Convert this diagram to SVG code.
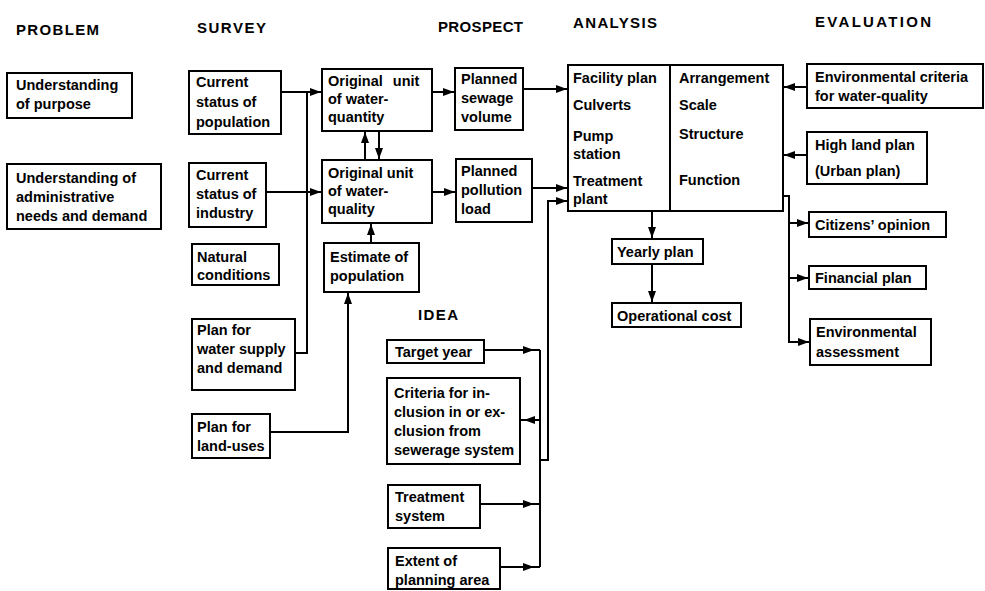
<svg xmlns="http://www.w3.org/2000/svg" width="985" height="591" viewBox="0 0 985 591">
<style>
.box{fill:#fff;stroke:#000;stroke-width:2}
.t{font-family:"Liberation Sans",Arial,sans-serif;font-size:14.5px;font-weight:bold;fill:#000}
.h{font-family:"Liberation Sans",Arial,sans-serif;font-size:15px;font-weight:bold;fill:#000}
.c{fill:none;stroke:#000;stroke-width:2}
.a{marker-end:url(#ah)}
.m{marker-mid:url(#ah)}
</style>
<defs>
<marker id="ah" markerUnits="userSpaceOnUse" markerWidth="11" markerHeight="8" refX="11" refY="4" orient="auto">
<path d="M0,0 L11,4 L0,8 z" fill="#000"/>
</marker>
</defs>
<rect width="985" height="591" fill="#fff"/>

<g id="headers">
<text class="h" x="16" y="35" textLength="83" lengthAdjust="spacing">PROBLEM</text>
<text class="h" x="197" y="33" textLength="69" lengthAdjust="spacing">SURVEY</text>
<text class="h" x="438" y="32" textLength="85" lengthAdjust="spacing">PROSPECT</text>
<text class="h" x="573" y="28" textLength="84" lengthAdjust="spacing">ANALYSIS</text>
<text class="h" x="815" y="27" textLength="116" lengthAdjust="spacing">EVALUATION</text>
<text class="h" x="418" y="320" textLength="40" lengthAdjust="spacing">IDEA</text>
</g>

<g id="connectors">
<path class="c a" d="M281,92 H321"/>
<path class="c a" d="M266,192 H321"/>
<path class="c" d="M295,353 H307 V92"/>
<path class="c a" d="M365,159 V132"/>
<path class="c a" d="M379,132 V159"/>
<path class="c a" d="M371,243 V224"/>
<path class="c a" d="M270,432 H348 V293"/>
<path class="c a" d="M432,92 H454"/>
<path class="c a" d="M432,192 H455"/>
<path class="c a" d="M523,89 H567"/>
<path class="c a" d="M532,188 H567"/>
<path class="c" d="M540,350 V567"/>
<path class="c a" d="M540,460 H548 V201 H567"/>
<path class="c m" d="M484,350 L534,350 L540,350"/>
<path class="c m" d="M540,420 L524,420 L520,420"/>
<path class="c m" d="M480,504 L534,504 L540,504"/>
<path class="c m" d="M500,567 L534,567 L540,567"/>
<path class="c a" d="M652,211 V238"/>
<path class="c a" d="M652,264 V302"/>
<path class="c a" d="M807,87 H784"/>
<path class="c a" d="M807,155 H784"/>
<path class="c" d="M783,196 H789 V343"/>
<path class="c a" d="M789,223 H808"/>
<path class="c a" d="M789,278 H808"/>
<path class="c a" d="M789,342 H809"/>
</g>

<g id="purpose">
<rect class="box" x="7" y="73" width="125" height="45"/>
<text class="t" x="16" y="90">Understanding</text>
<text class="t" x="16" y="109">of purpose</text>
</g>
<g id="admin">
<rect class="box" x="7" y="164" width="154" height="65"/>
<text class="t" x="16" y="183">Understanding of</text>
<text class="t" x="16" y="202">administrative</text>
<text class="t" x="16" y="221">needs and demand</text>
</g>

<g id="population">
<rect class="box" x="189" y="71" width="92" height="63"/>
<text class="t" x="196" y="87">Current</text>
<text class="t" x="196" y="107">status of</text>
<text class="t" x="196" y="127">population</text>
</g>
<g id="industry">
<rect class="box" x="189" y="163" width="77" height="64"/>
<text class="t" x="196" y="180">Current</text>
<text class="t" x="196" y="199">status of</text>
<text class="t" x="196" y="218">industry</text>
</g>
<g id="natural">
<rect class="box" x="192" y="244" width="87" height="41"/>
<text class="t" x="197" y="262">Natural</text>
<text class="t" x="197" y="280">conditions</text>
</g>
<g id="watersupply">
<rect class="box" x="192" y="319" width="103" height="71"/>
<text class="t" x="197" y="335">Plan for</text>
<text class="t" x="197" y="354">water supply</text>
<text class="t" x="197" y="373">and demand</text>
</g>
<g id="landuses">
<rect class="box" x="192" y="414" width="78" height="44"/>
<text class="t" x="197" y="432">Plan for</text>
<text class="t" x="197" y="451">land-uses</text>
</g>

<g id="quantity">
<rect class="box" x="322" y="69" width="110" height="62"/>
<text class="t" x="328" y="86" word-spacing="6">Original unit</text>
<text class="t" x="328" y="104">of water-</text>
<text class="t" x="328" y="122">quantity</text>
</g>
<g id="quality">
<rect class="box" x="322" y="160" width="110" height="63"/>
<text class="t" x="328" y="178">Original unit</text>
<text class="t" x="328" y="196">of water-</text>
<text class="t" x="328" y="214">quality</text>
</g>
<g id="estimate">
<rect class="box" x="324" y="243" width="95" height="49"/>
<text class="t" x="330" y="262">Estimate of</text>
<text class="t" x="330" y="281">population</text>
</g>

<g id="sewage">
<rect class="box" x="455" y="68" width="68" height="62"/>
<text class="t" x="461" y="84">Planned</text>
<text class="t" x="461" y="103">sewage</text>
<text class="t" x="461" y="122">volume</text>
</g>
<g id="pollution">
<rect class="box" x="456" y="159" width="76" height="63"/>
<text class="t" x="461" y="176">Planned</text>
<text class="t" x="461" y="195">pollution</text>
<text class="t" x="461" y="214">load</text>
</g>

<g id="target">
<rect class="box" x="387" y="340" width="97" height="23"/>
<text class="t" x="395" y="357">Target year</text>
</g>
<g id="criteria">
<rect class="box" x="387" y="378" width="133" height="86"/>
<text class="t" x="394" y="398">Criteria for in-</text>
<text class="t" x="394" y="417">clusion in or ex-</text>
<text class="t" x="394" y="436">clusion from</text>
<text class="t" x="394" y="455">sewerage system</text>
</g>
<g id="treatment">
<rect class="box" x="388" y="485" width="92" height="43"/>
<text class="t" x="395" y="502">Treatment</text>
<text class="t" x="395" y="521">system</text>
</g>
<g id="extent">
<rect class="box" x="388" y="548" width="112" height="41"/>
<text class="t" x="395" y="566">Extent of</text>
<text class="t" x="395" y="585">planning area</text>
</g>

<g id="analysis">
<rect class="box" x="568" y="65" width="215" height="146"/>
<line x1="670" y1="65" x2="670" y2="211" stroke="#000" stroke-width="2"/>
<text class="t" x="573" y="83">Facility plan</text>
<text class="t" x="573" y="110">Culverts</text>
<text class="t" x="573" y="141">Pump</text>
<text class="t" x="573" y="159">station</text>
<text class="t" x="573" y="186">Treatment</text>
<text class="t" x="573" y="204">plant</text>
<text class="t" x="679" y="83">Arrangement</text>
<text class="t" x="679" y="110">Scale</text>
<text class="t" x="679" y="139">Structure</text>
<text class="t" x="679" y="185">Function</text>
</g>
<g id="yearly">
<rect class="box" x="612" y="239" width="91" height="25"/>
<text class="t" x="617" y="257">Yearly plan</text>
</g>
<g id="operational">
<rect class="box" x="612" y="303" width="129" height="24"/>
<text class="t" x="617" y="321">Operational cost</text>
</g>

<g id="envcriteria">
<rect class="box" x="807" y="64" width="176" height="44"/>
<text class="t" x="815" y="82">Environmental criteria</text>
<text class="t" x="815" y="101">for water-quality</text>
</g>
<g id="highland">
<rect class="box" x="807" y="132" width="120" height="52"/>
<text class="t" x="815" y="150">High land plan</text>
<text class="t" x="815" y="176">(Urban plan)</text>
</g>
<g id="citizens">
<rect class="box" x="809" y="212" width="137" height="25"/>
<text class="t" x="815" y="230">Citizens’ opinion</text>
</g>
<g id="financial">
<rect class="box" x="809" y="266" width="117" height="23"/>
<text class="t" x="815" y="283">Financial plan</text>
</g>
<g id="envassess">
<rect class="box" x="810" y="319" width="121" height="46"/>
<text class="t" x="816" y="337">Environmental</text>
<text class="t" x="816" y="357">assessment</text>
</g>
</svg>
